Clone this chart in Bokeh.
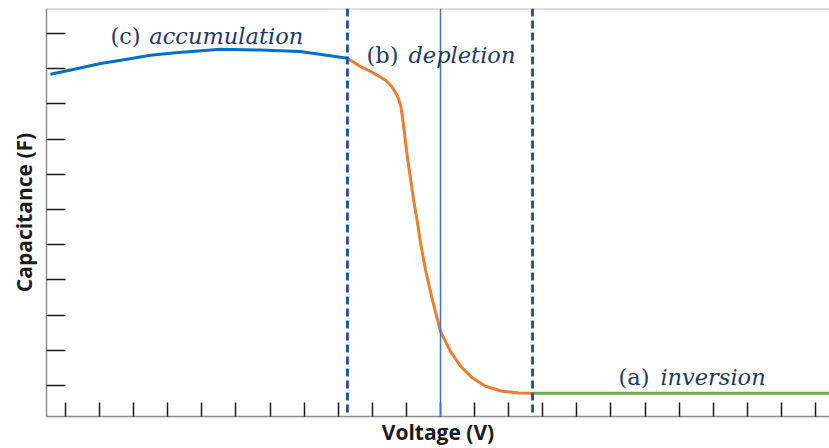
from bokeh.plotting import figure
from bokeh.models import Range1d, FixedTicker, Span, Label, CustomJSTickFormatter
from bokeh.embed import file_html
from bokeh.resources import INLINE

# ---- data (axis units = tick index) ----
x_ticks = list(range(0, 23))
y_ticks = list(range(1, 12))

accum_v = [-0.44, 0.29, 1.03, 1.76, 2.49, 3.23, 4.55, 5.72, 6.89, 8.27]
accum_c = [9.84, 9.99, 10.15, 10.26, 10.38, 10.45, 10.55, 10.53, 10.49, 10.30]

depl_v = [8.27, 8.60, 9.00, 9.39, 9.58, 9.73, 9.83, 9.89, 9.95, 10.02, 10.12, 10.22,
          10.32, 10.41, 10.56, 10.76, 11.00, 11.29, 11.59, 11.93, 12.32, 12.81, 13.30, 13.70]
depl_c = [10.30, 10.09, 9.90, 9.67, 9.48, 9.24, 8.96, 8.58, 8.11, 7.54, 6.88, 6.22,
          5.65, 5.07, 4.29, 3.44, 2.54, 1.97, 1.55, 1.22, 0.98, 0.84, 0.79, 0.78]

inv_v = [13.70, 22.41]
inv_c = [0.78, 0.78]

region_bounds = [8.27, 13.70]
flatband_v = 11.0

region_prefix = ["(c)", "(b)", "(a)"]
region_names = ["accumulation", "depletion", "inversion"]
prefix_x = [1.32, 8.83, 16.22]
name_x = [2.46, 10.06, 17.45]
label_y = [10.92, 10.38, 1.25]

X_START, X_END = -0.557, 22.41
Y_START, Y_END = 0.122, 11.71

p = figure(width=829, height=448,
           x_range=Range1d(X_START, X_END), y_range=Range1d(Y_START, Y_END),
           output_backend="svg", toolbar_location=None,
           min_border_left=46, min_border_right=0, min_border_top=8, min_border_bottom=31)
p.outline_line_color = None
p.grid.visible = False
p.background_fill_color = "white"

blank = CustomJSTickFormatter(code="return '';")
for ax, tks, tin in ((p.xaxis, x_ticks, 14), (p.yaxis, y_ticks, 19)):
    ax.ticker = FixedTicker(ticks=tks)
    ax.formatter = blank
    ax.major_tick_in = tin
    ax.major_tick_out = 0
    ax.minor_tick_line_color = None
    ax.major_tick_line_color = "#1a1a1a"
    ax.major_tick_line_width = 1.5
    ax.axis_line_color = "#8c8c8c"
    ax.axis_line_width = 1.5
    ax.major_label_text_font_size = "1px"
    ax.major_label_standoff = 0
    ax.axis_label_text_font = "Open Sans"
    ax.axis_label_text_font_style = "bold"
    ax.axis_label_text_font_size = "21px"
    ax.axis_label_text_color = "#1a1a1a"

p.xaxis.axis_label = "Voltage (V)"
p.yaxis.axis_label = "Capacitance (F)"
p.xaxis.axis_label_standoff = 1
p.yaxis.axis_label_standoff = 9

# top border
p.add_layout(Span(location=Y_END, dimension="width", line_color="#bfbfbf", line_width=2))

# region boundaries
for b in region_bounds:
    p.add_layout(Span(location=b, dimension="height", line_color="#2f5597",
                      line_width=3, line_dash="8 4"))
p.add_layout(Span(location=flatband_v, dimension="height", line_color="#4472c4", line_width=1.5))

p.line(accum_v, accum_c, line_color="#0070c0", line_width=3, line_join="round")
p.line(depl_v, depl_c, line_color="#ed7d31", line_width=3, line_join="round")
p.line(inv_v, inv_c, line_color="#70ad47", line_width=3)

for pre, name, px, nx, ly in zip(region_prefix, region_names, prefix_x, name_x, label_y):
    p.add_layout(Label(x=px, y=ly, text=pre, text_font="DejaVu Serif", text_font_size="22.5px",
                       text_color="#1f3864", text_baseline="alphabetic"))
    p.add_layout(Label(x=nx, y=ly, text=name, text_font="DejaVu Serif", text_font_size="22.5px",
                       text_font_style="italic", text_color="#1f3864", text_baseline="alphabetic"))

open("out.html", "w").write(file_html(p, INLINE))
